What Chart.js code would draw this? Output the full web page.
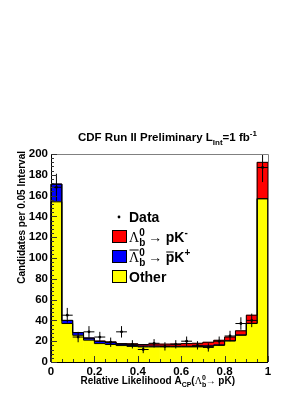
<!DOCTYPE html>
<html><head><meta charset="utf-8">
<script src="https://cdn.jsdelivr.net/npm/chart.js@4/dist/chart.umd.min.js"></script>
<style>html,body{margin:0;padding:0;background:#fff;}canvas{display:block;}</style>
</head><body>
<canvas id="c" width="305" height="395"></canvas>
<script>
// ---- data ----
const binCenters = [0.025,0.075,0.125,0.175,0.225,0.275,0.325,0.375,0.425,0.475,0.525,0.575,0.625,0.675,0.725,0.775,0.825,0.875,0.925,0.975];
const binWidth = 0.05;
const otherCounts = [154,37,25.7,21,17.7,16.8,15.8,15,14.5,14.5,14.5,14.5,14.5,14.5,15,16,20.2,25.7,37,157];
const antiLbCounts = [17,3,2.6,2,2,1.8,1.2,1,0.8,0.8,0.7,0.6,0.6,0.5,0.5,0.4,0.3,0.3,0.2,0];
const lbCounts = [0,0,0,0,0.5,0.7,0.7,1.5,1.5,2,2,2.2,2.6,3,3.5,4.5,3.5,4,7.8,35];
const dataCounts = [168,45,24,29,24,19,29,17,12,18,15,17,20,16,14,20,25,37,40,187];
const dataErrors = [13,7,5,5.5,5,4.5,5.5,4,3.5,4,4,4,4.5,4,4,4.5,5,6,6.5,14];
const yMax = 200, yMajor = 20, yMinor = 4;
const xMajor = 0.2, xMinor = 0.05;

const SANS = "'Liberation Sans', Arial, Helvetica, sans-serif";
const SERIF = "'Liberation Serif', 'Times New Roman', serif";

function drawRuns(ctx, runs, x, base, measureOnly) {
  let cx = x;
  for (const r of runs) {
    ctx.font = r.font;
    const w = ctx.measureText(r.t).width;
    if (!measureOnly) {
      ctx.fillText(r.t, cx, base + (r.dy || 0));
      if (r.over) {
        ctx.beginPath();
        ctx.moveTo(cx + 0.5, base + r.over);
        ctx.lineTo(cx + w - 0.5, base + r.over);
        ctx.lineWidth = 1; ctx.strokeStyle = '#000'; ctx.stroke();
      }
    }
    if (!r.noAdvance) cx += (r.adv !== undefined ? r.adv : w);
  }
  return cx - x;
}

const rootPlugin = {
  id: 'rootStyle',
  afterDatasetsDraw(chart) {
    const ctx = chart.ctx, y = chart.scales.y, xl = chart.scales.xl;
    ctx.save();
    const lvl1 = otherCounts.slice();
    const lvl2 = lvl1.map((v, i) => v + antiLbCounts[i]);
    const lvl3 = lvl2.map((v, i) => v + lbCounts[i]);
    ctx.strokeStyle = '#000'; ctx.lineWidth = 1;
    for (const L of [lvl3, lvl2, lvl1]) {
      ctx.beginPath();
      ctx.moveTo(xl.getPixelForValue(binCenters[0] - binWidth / 2), y.getPixelForValue(0));
      L.forEach((v, i) => {
        ctx.lineTo(xl.getPixelForValue(binCenters[i] - binWidth / 2), y.getPixelForValue(v));
        ctx.lineTo(xl.getPixelForValue(binCenters[i] + binWidth / 2), y.getPixelForValue(v));
      });
      ctx.lineTo(xl.getPixelForValue(binCenters[binCenters.length - 1] + binWidth / 2), y.getPixelForValue(0));
      ctx.stroke();
    }
    ctx.strokeStyle = '#000'; ctx.fillStyle = '#000';
    const top = chart.chartArea.top;
    dataCounts.forEach((v, i) => {
      const px = xl.getPixelForValue(binCenters[i]);
      const py = y.getPixelForValue(v);
      const y1 = Math.max(top, y.getPixelForValue(v + dataErrors[i]));
      const y2 = y.getPixelForValue(v - dataErrors[i]);
      ctx.beginPath();
      ctx.moveTo(px, y1); ctx.lineTo(px, y2);
      ctx.moveTo(xl.getPixelForValue(binCenters[i] - binWidth / 2), py);
      ctx.lineTo(xl.getPixelForValue(binCenters[i] + binWidth / 2), py);
      ctx.stroke();
      ctx.beginPath(); ctx.arc(px, py, 1.4, 0, Math.PI * 2); ctx.fill();
    });
    ctx.restore();
  },
  afterDraw(chart) {
    const ctx = chart.ctx, y = chart.scales.y, xl = chart.scales.xl;
    const a = chart.chartArea;
    ctx.save();
    ctx.lineWidth = 1;
    ctx.strokeStyle = '#808080';
    ctx.beginPath();
    ctx.moveTo(a.left, a.top + 0.5); ctx.lineTo(a.right + 0.5, a.top + 0.5); ctx.lineTo(a.right + 0.5, a.bottom);
    ctx.stroke();
    ctx.strokeStyle = '#000';
    ctx.beginPath();
    ctx.moveTo(a.left + 0.5, a.top); ctx.lineTo(a.left + 0.5, a.bottom + 0.5); ctx.lineTo(a.right, a.bottom + 0.5);
    ctx.stroke();
    ctx.strokeStyle = '#333';
    ctx.beginPath();
    for (let v = 0; v <= yMax + 1e-9; v += yMinor) {
      const len = (Math.round(v) % yMajor === 0) ? 6 : 3;
      const py = Math.round(y.getPixelForValue(v)) + 0.5;
      ctx.moveTo(a.left, py); ctx.lineTo(a.left + len, py);
    }
    const nx = Math.round(1 / xMinor), per = Math.round(xMajor / xMinor);
    for (let k = 0; k <= nx; k++) {
      const len = (k % per === 0) ? 6 : 3;
      const px = Math.round(xl.getPixelForValue(k * xMinor)) + 0.5;
      ctx.moveTo(px, a.bottom); ctx.lineTo(px, a.bottom - len);
    }
    ctx.stroke();

    ctx.fillStyle = '#000';
    ctx.textBaseline = 'alphabetic';
    ctx.textAlign = 'left';
    const B = (s) => 'bold ' + s + 'px ' + SANS;
    drawRuns(ctx, [
      {t: 'CDF Run II Preliminary L', font: B(11.5)},
      {t: 'Int', font: B(8), dy: 4},
      {t: '=1 fb', font: B(11.5)},
      {t: '-1', font: B(8), dy: -5}
    ], 78, 141);

    ctx.save();
    ctx.translate(22, 151);
    ctx.rotate(-Math.PI / 2);
    ctx.textAlign = 'right';
    ctx.textBaseline = 'middle';
    ctx.font = B(10);
    ctx.fillText('Candidates per 0.05 Interval', 0, 0);
    ctx.restore();

    ctx.textAlign = 'left';
    const xr = [
      {t: 'Relative Likelihood A', font: B(10)},
      {t: 'CP', font: B(7), dy: 3},
      {t: '(', font: B(10)},
      {t: '\u039B', font: '10px ' + SERIF},
      {t: 'b', font: B(7), dy: 3, noAdvance: true},
      {t: '0', font: B(7), dy: -4},
      {t: '\u2192 ', font: '10px ' + SERIF},
      {t: 'pK)', font: B(10)}
    ];
    const w = drawRuns(ctx, xr, 0, 0, true);
    drawRuns(ctx, xr, 235 - w, 384);

    const LF = 14;
    ctx.beginPath(); ctx.arc(119, 217, 1.4, 0, Math.PI * 2); ctx.fill();
    drawRuns(ctx, [{t: 'Data', font: B(LF)}], 129, 222);
    const boxes = [['#ff0000', 230], ['#0000ff', 250], ['#ffff00', 270]];
    boxes.forEach(([c, by]) => {
      ctx.fillStyle = c; ctx.fillRect(112, by, 15, 13);
      ctx.strokeStyle = '#000'; ctx.lineWidth = 1; ctx.strokeRect(112.5, by + 0.5, 14, 12);
    });
    ctx.fillStyle = '#000';
    drawRuns(ctx, [
      {t: '\u039B', font: (LF) + 'px ' + SERIF},
      {t: 'b', font: B(10), dy: 4, noAdvance: true},
      {t: '0', font: B(10), dy: -6},
      {t: ' \u2192 ', font: (LF) + 'px ' + SERIF},
      {t: 'pK', font: B(LF)},
      {t: '-', font: B(10), dy: -6}
    ], 129, 242);
    drawRuns(ctx, [
      {t: '\u039B', font: (LF) + 'px ' + SERIF, over: -12},
      {t: 'b', font: B(10), dy: 4, noAdvance: true},
      {t: '0', font: B(10), dy: -6},
      {t: ' \u2192 ', font: (LF) + 'px ' + SERIF},
      {t: 'p', font: B(LF), over: -10},
      {t: 'K', font: B(LF)},
      {t: '+', font: B(10), dy: -6}
    ], 129, 262);
    drawRuns(ctx, [{t: 'Other', font: B(LF)}], 129, 282);
    ctx.restore();
  }
};

new Chart(document.getElementById('c'), {
  type: 'bar',
  data: {
    labels: binCenters,
    datasets: [
      {label: 'Other', data: otherCounts, backgroundColor: '#ffff00', borderWidth: 0},
      {label: 'anti-Lambda_b -> pbar K+', data: antiLbCounts, backgroundColor: '#0000ff', borderWidth: 0},
      {label: 'Lambda_b -> p K-', data: lbCounts, backgroundColor: '#ff0000', borderWidth: 0}
    ]
  },
  options: {
    responsive: false,
    devicePixelRatio: 1,
    animation: false,
    layout: {padding: {top: 154, right: 37, left: 0, bottom: 0}},
    datasets: {bar: {categoryPercentage: 1, barPercentage: 1}},
    plugins: {legend: {display: false}, tooltip: {enabled: false}, title: {display: false}},
    scales: {
      x: {type: 'category', stacked: true, display: false, offset: true},
      xl: {
        type: 'linear', position: 'bottom', min: 0, max: 1, offset: false,
        grid: {display: false, drawTicks: false, offset: false}, border: {display: false},
        ticks: {stepSize: xMajor, color: '#000', padding: 3, maxRotation: 0,
                font: {family: SANS, weight: 'bold', size: 11.5},
                callback: (v) => String(Number(v.toFixed(2)))},
        afterFit(s) { s.height = 33; }
      },
      y: {
        stacked: true, min: 0, max: yMax,
        grid: {display: false, drawTicks: false}, border: {display: false},
        ticks: {stepSize: yMajor, color: '#000', padding: 3,
                font: {family: SANS, weight: 'bold', size: 11.5}},
        afterFit(s) { s.width = 51; }
      }
    }
  },
  plugins: [rootPlugin]
});
</script>
</body></html>
